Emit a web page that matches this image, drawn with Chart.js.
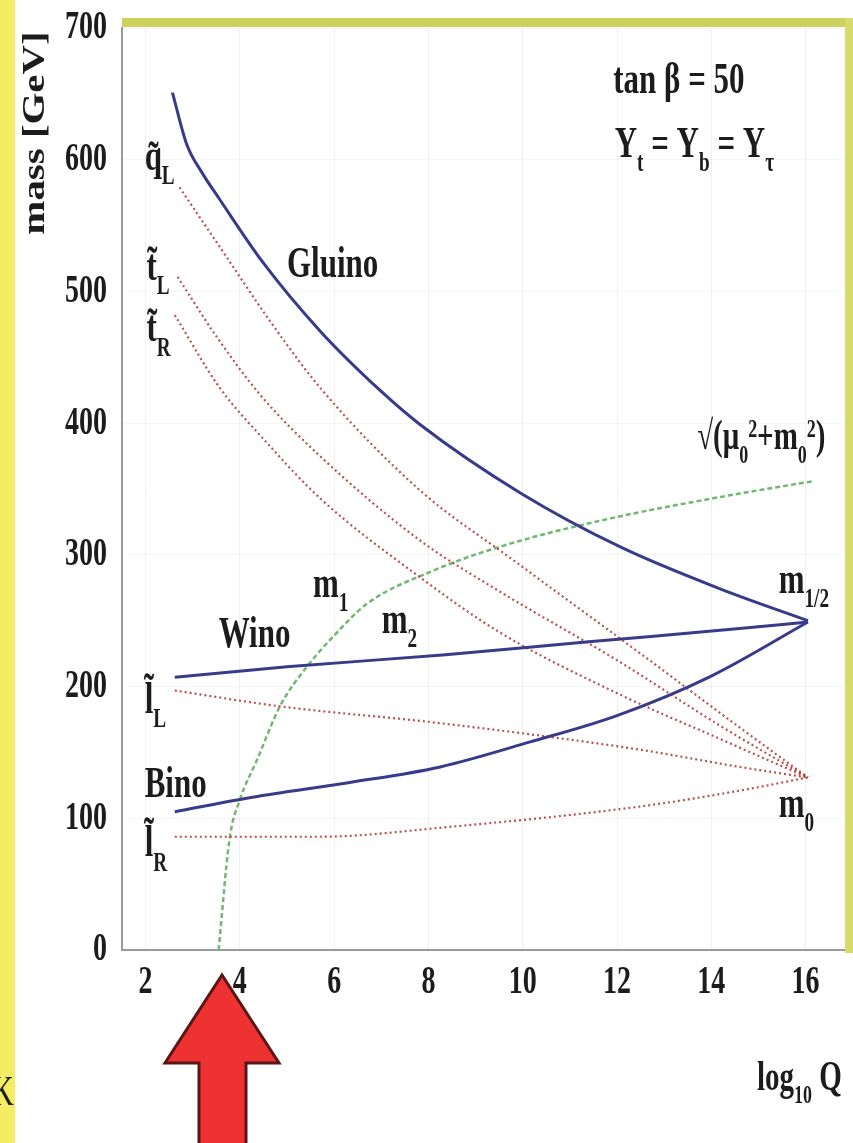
<!DOCTYPE html>
<html>
<head>
<meta charset="utf-8">
<script src="https://cdn.jsdelivr.net/npm/chart.js@4.4.1/dist/chart.umd.min.js"></script>
<style>
  html, body { margin: 0; padding: 0; background: #fff; }
  #wrap { position: relative; width: 853px; height: 1143px; }
</style>
</head>
<body>
<div id="wrap"><canvas id="massChart"></canvas></div>
<script>
// running masses [GeV] vs log10 Q
const gluinoQ = [2.57, 2.87, 3.2, 3.57, 4.49, 5.7, 6.97, 7.82, 9.95, 12.07, 14.2, 16.05];
const gluinoM = [651, 612, 590, 570, 522, 470, 425, 399, 347, 306, 274, 250];
const winoQ = [2.62, 5.0, 8.3, 11.4, 14.6, 16.05];
const winoM = [207, 215, 224, 234, 244, 249];
const binoQ = [2.62, 4.27, 6.3, 8.25, 10.16, 12.0, 14.0, 16.05];
const binoM = [105, 116, 127, 139, 158, 178, 208, 249];
const sqLQ = [2.72, 3.57, 4.63, 5.7, 7.82, 9.8, 12.5, 14.6, 16.05];
const sqLM = [579, 534, 478, 427, 349, 296, 225, 169, 131];
const stLQ = [2.68, 3.5, 4.42, 5.7, 7.82, 9.52, 12.0, 14.2, 16.05];
const stLM = [511, 466, 422, 375, 311, 272, 220, 170, 131];
const stRQ = [2.62, 3.57, 4.5, 5.7, 7.82, 9.52, 12.0, 14.2, 16.05];
const stRM = [482, 427, 388, 343, 283, 241, 195, 160, 131];
const slLQ = [2.62, 4.85, 8.3, 12.5, 14.6, 16.05];
const slLM = [197, 185, 172, 152, 139, 131];
const slRQ = [2.62, 5.7, 8.3, 12.5, 14.6, 16.05];
const slRM = [86, 86, 93, 109, 121, 131];
const higgsQ = [3.55, 3.78, 4.0, 4.36, 4.85, 5.42, 6.06, 6.7, 8.1, 9.5, 11.65, 14.2, 16.17];
const higgsM = [0, 84, 114, 144, 185, 215, 241, 263, 288, 306, 326, 344, 356];

const xTicks = [2, 4, 6, 8, 10, 12, 14, 16];
const yTicks = [0, 100, 200, 300, 400, 500, 600, 700];

const SERIF = '"Liberation Serif", "DejaVu Serif", serif';
const NAVY = '#393b8a';
const RED = 'rgba(180,62,62,0.9)';
const GREEN = '#72b872';
const SY = 1.42; // text in the picture is tall and narrow

const pts = (qs, ms) => qs.map((q, i) => ({ x: q, y: ms[i] }));

function curve(label, qs, ms, color, dash, width) {
  return {
    label, data: pts(qs, ms), showLine: true, pointRadius: 0,
    borderColor: color, borderDash: dash, borderWidth: width,
    cubicInterpolationMode: 'monotone', fill: false
  };
}

// labels placed in data coordinates (log10 Q, mass)
const notes = [
  { q: 1.98, m: 592, parts: [['q\u0303', ''], ['L', 'sub']] },
  { q: 2.02, m: 509, parts: [['t\u0303', ''], ['L', 'sub']] },
  { q: 2.02, m: 462, parts: [['t\u0303', ''], ['R', 'sub']] },
  { q: 5.0, m: 511, parts: [['Gluino', '']] },
  { q: 5.55, m: 268, parts: [['m', ''], ['1', 'sub']] },
  { q: 7.01, m: 241, parts: [['m', ''], ['2', 'sub']] },
  { q: 3.55, m: 230, parts: [['Wino', '']] },
  { q: 1.98, m: 180, parts: [['l\u0303', ''], ['L', 'sub']] },
  { q: 1.98, m: 116, parts: [['Bino', '']] },
  { q: 1.98, m: 71, parts: [['l\u0303', ''], ['R', 'sub']] },
  { q: 15.43, m: 271, parts: [['m', ''], ['1/2', 'sub']] },
  { q: 15.43, m: 101, parts: [['m', ''], ['0', 'sub']] },
  { q: 13.7, m: 380, size: 29, parts: [['\u221A(\u03BC', ''], ['0', 'sub'], ['2', 'sup'], ['+m', ''], ['0', 'sub'], ['2', 'sup'], [')', '']] },
  { q: 11.92, m: 651, parts: [['tan \u03B2 = 50', '']] },
  { q: 11.95, m: 602, parts: [['Y', ''], ['t', 'sub'], [' = Y', ''], ['b', 'sub'], [' = Y', ''], ['\u03C4', 'sub']] }
];

function stretchText(ctx, txt, x, y, font, align, base, sy) {
  ctx.save();
  ctx.translate(x, y);
  ctx.scale(1, sy);
  ctx.font = font;
  ctx.textAlign = align;
  ctx.textBaseline = base;
  ctx.fillText(txt, 0, 0);
  ctx.restore();
}

function rich(ctx, parts, x, y, size) {
  let cx = x;
  parts.forEach(([txt, kind]) => {
    const s = kind ? size * 0.62 : size;
    const dy = kind === 'sub' ? size * 0.32 * SY : kind === 'sup' ? -size * 0.3 * SY : 0;
    ctx.save();
    ctx.font = 'bold ' + s + 'px ' + SERIF;
    ctx.textAlign = 'left';
    ctx.textBaseline = 'alphabetic';
    ctx.translate(cx, y + dy);
    ctx.scale(1, SY);
    ctx.fillText(txt, 0, 0);
    cx += ctx.measureText(txt).width;
    ctx.restore();
  });
}

const decor = {
  id: 'decor',
  beforeDraw(chart) {
    const { ctx, width, height } = chart;
    ctx.save();
    ctx.fillStyle = '#fff';
    ctx.fillRect(0, 0, width, height);
    ctx.fillStyle = '#f4ec62';
    ctx.fillRect(0, 0, 15, height);
    ctx.restore();
  },
  afterDraw(chart) {
    const { ctx } = chart;
    const xs = chart.scales.x, ys = chart.scales.y;
    ctx.save();
    // frame on top and right
    ctx.fillStyle = '#cdd05a';
    ctx.fillRect(122, 18, 731, 9);
    ctx.fillStyle = '#d7da6c';
    ctx.fillRect(845, 18, 8, 935);

    ctx.fillStyle = '#1c1c1c';
    ys.ticks.forEach(t => stretchText(ctx, String(t.value), 107, ys.getPixelForValue(t.value),
      'bold 28px ' + SERIF, 'right', 'middle', 1.45));
    xs.ticks.forEach(t => stretchText(ctx, String(t.value), xs.getPixelForValue(t.value), 962,
      'bold 28px ' + SERIF, 'center', 'top', 1.45));

    // axis titles
    ctx.save();
    ctx.translate(36, 133);
    ctx.rotate(-Math.PI / 2);
    ctx.scale(1.32, 1);
    ctx.font = 'bold 31px ' + SERIF;
    ctx.textAlign = 'center';
    ctx.textBaseline = 'middle';
    ctx.fillText('mass [GeV]', 0, 0);
    ctx.restore();
    rich(ctx, [['log', ''], ['10', 'sub'], [' Q', '']], 757, 1090, 29);

    notes.forEach(n => rich(ctx, n.parts, xs.getPixelForValue(n.q), ys.getPixelForValue(n.m), n.size || 31));

    // cut-off text at the left edge
    stretchText(ctx, 'K', -8, 1105, '30px ' + SERIF, 'left', 'alphabetic', 1.4);

    // red arrow
    ctx.beginPath();
    ctx.moveTo(222, 975);
    ctx.lineTo(279, 1063);
    ctx.lineTo(246, 1063);
    ctx.lineTo(246, 1150);
    ctx.lineTo(199, 1150);
    ctx.lineTo(199, 1063);
    ctx.lineTo(165, 1063);
    ctx.closePath();
    ctx.fillStyle = '#ee3232';
    ctx.fill();
    ctx.lineWidth = 3;
    ctx.strokeStyle = '#5a1616';
    ctx.stroke();
    ctx.restore();
  }
};

new Chart(document.getElementById('massChart'), {
  type: 'scatter',
  data: {
    datasets: [
      curve('Gluino', gluinoQ, gluinoM, NAVY, [], 3),
      curve('Wino', winoQ, winoM, NAVY, [], 3),
      curve('Bino', binoQ, binoM, NAVY, [], 3),
      curve('squark L', sqLQ, sqLM, RED, [2, 3], 2.2),
      curve('stop L', stLQ, stLM, RED, [2, 3], 2.2),
      curve('stop R', stRQ, stRM, RED, [2, 3], 2.2),
      curve('slepton L', slLQ, slLM, RED, [2, 3], 2.2),
      curve('slepton R', slRQ, slRM, RED, [2, 3], 2.2),
      curve('sqrt(mu0^2+m0^2)', higgsQ, higgsM, GREEN, [5, 3], 2.5)
    ]
  },
  options: {
    responsive: true,
    maintainAspectRatio: false,
    animation: false,
    layout: { padding: { top: 28, right: 5, left: 0, bottom: 0 } },
    plugins: { legend: { display: false }, tooltip: { enabled: false } },
    scales: {
      x: {
        type: 'linear', min: 1.5, max: 16.9,
        afterBuildTicks: s => { s.ticks = xTicks.map(v => ({ value: v })); },
        afterFit: s => { s.height = 193; },
        ticks: { display: false },
        grid: { color: 'rgba(0,0,0,0.06)', drawTicks: false },
        border: { color: '#9a9a9a', width: 2 }
      },
      y: {
        type: 'linear', min: 0, max: 700,
        afterBuildTicks: s => { s.ticks = yTicks.map(v => ({ value: v })); },
        afterFit: s => { s.width = 122; },
        ticks: { display: false },
        grid: { color: 'rgba(0,0,0,0.04)', drawTicks: false },
        border: { color: '#9a9a9a', width: 2 }
      }
    }
  },
  plugins: [decor]
});
</script>
</body>
</html>
